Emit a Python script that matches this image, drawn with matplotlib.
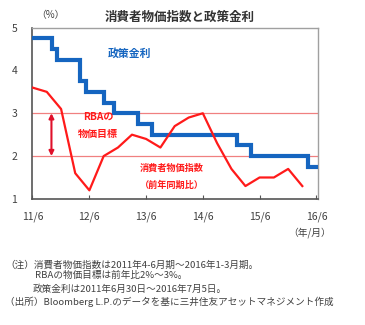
import matplotlib
matplotlib.use("Agg")
import matplotlib.pyplot as plt
import pandas as pd

plt.rcParams['font.family'] = ['Noto Sans CJK JP', 'DejaVu Sans']

# Consumer price index, y/y % (quarterly, plotted at quarter end)
cpi_dates = pd.to_datetime([
    "2011-06-30", "2011-09-30", "2011-12-31", "2012-03-31",
    "2012-06-30", "2012-09-30", "2012-12-31", "2013-03-31",
    "2013-06-30", "2013-09-30", "2013-12-31", "2014-03-31",
    "2014-06-30", "2014-09-30", "2014-12-31", "2015-03-31",
    "2015-06-30", "2015-09-30", "2015-12-31", "2016-03-31",
])
cpi_values = [3.6, 3.5, 3.1, 1.6, 1.2, 2.0, 2.2, 2.5, 2.4, 2.2,
              2.7, 2.9, 3.0, 2.3, 1.7, 1.3, 1.5, 1.5, 1.7, 1.3]

# Policy rate (%), dates of each change plus the final observation
rate_dates = pd.to_datetime([
    "2011-06-30", "2011-11-02", "2011-12-07", "2012-05-02",
    "2012-06-06", "2012-10-03", "2012-12-05", "2013-05-08",
    "2013-08-07", "2015-02-04", "2015-05-06", "2016-05-04",
    "2016-07-05",
])
rate_values = [4.75, 4.50, 4.25, 3.75, 3.50, 3.25, 3.00, 2.75,
               2.50, 2.25, 2.00, 1.75, 1.75]

# RBA inflation target band
target_low, target_high = 2.0, 3.0

tick_dates = pd.to_datetime(["2011-06-30", "2012-06-30", "2013-06-30",
                             "2014-06-30", "2015-06-30", "2016-06-30"])
tick_labels = ["11/6", "12/6", "13/6", "14/6", "15/6", "16/6"]
y_ticks = [1, 2, 3, 4, 5]

blue = "#1565c0"
red = "#ff1a1a"
text_gray = "#404040"

fig = plt.figure(figsize=(3.65, 3.25), dpi=100)
ax = fig.add_axes([0.089, 0.388, 0.781, 0.527])

ax.axhline(target_low, color="#f08080", lw=0.9, zorder=1)
ax.axhline(target_high, color="#f08080", lw=0.9, zorder=1)

ax.step(rate_dates, rate_values, where="post", color=blue, lw=3.0,
        solid_joinstyle="miter", zorder=3)
ax.plot(cpi_dates, cpi_values, color=red, lw=1.6, zorder=4)

ax.set_xlim(pd.Timestamp("2011-06-30"), pd.Timestamp("2016-07-07"))
ax.set_ylim(1, 5)
ax.set_xticks(tick_dates)
ax.set_xticklabels(tick_labels)
ax.set_yticks(y_ticks)
ax.tick_params(axis="x", direction="in", length=3, color="#555555",
               labelsize=7.5, labelcolor=text_gray, pad=9)
ax.tick_params(axis="y", length=0, labelsize=7.5, labelcolor=text_gray, pad=11)

for side in ("left", "bottom"):
    ax.spines[side].set_color("#555555")
    ax.spines[side].set_linewidth(1.2)
for side in ("top", "right"):
    ax.spines[side].set_color("#a0a0a0")
    ax.spines[side].set_linewidth(1.0)

# Target band arrow
arrow_x = pd.Timestamp("2011-10-30")
ax.annotate("", xy=(arrow_x, target_low), xytext=(arrow_x, target_high),
            arrowprops=dict(arrowstyle="<|-|>", color="#e0102a", lw=1.5,
                            mutation_scale=7, shrinkA=0, shrinkB=0))

ax.text(pd.Timestamp("2013-03-15"), 4.4, "政策金利", color=blue,
        fontsize=7.8, fontweight="bold", ha="center", va="center")
ax.text(pd.Timestamp("2012-08-25"), 2.92, "RBAの", color=red,
        fontsize=7.3, fontweight="bold", ha="center", va="center")
ax.text(pd.Timestamp("2012-08-25"), 2.51, "物価目標", color=red,
        fontsize=7.2, fontweight="bold", ha="center", va="center")
ax.text(pd.Timestamp("2013-12-10"), 1.72, "消費者物価指数", color=red,
        fontsize=6.6, fontweight="bold", ha="center", va="center")
ax.text(pd.Timestamp("2013-12-10"), 1.32, "（前年同期比）", color=red,
        fontsize=6.6, fontweight="bold", ha="center", va="center")

fig.text(180 / 365, 1 - 17 / 325, "消費者物価指数と政策金利", fontsize=9,
         fontweight="bold", color="#333333", ha="center", va="center")
fig.text(50 / 365, 1 - 15 / 325, "（%）", fontsize=7, color=text_gray,
         ha="center", va="center")
fig.text(310 / 365, 1 - 233 / 325, "（年/月）", fontsize=7, color=text_gray,
         ha="center", va="center")

notes = [
    (5, 265, "（注）消費者物価指数は2011年4-6月期～2016年1-3月期。"),
    (35, 275, "RBAの物価目標は前年比2%～3%。"),
    (33, 289, "政策金利は2011年6月30日～2016年7月5日。"),
    (5, 302, "（出所）Bloomberg L.P.のデータを基に三井住友アセットマネジメント作成"),
]
for x, y, s in notes:
    fig.text(x / 365, 1 - y / 325, s, fontsize=6.9, color=text_gray,
             ha="left", va="center")

fig.savefig("out.png", dpi=100)
